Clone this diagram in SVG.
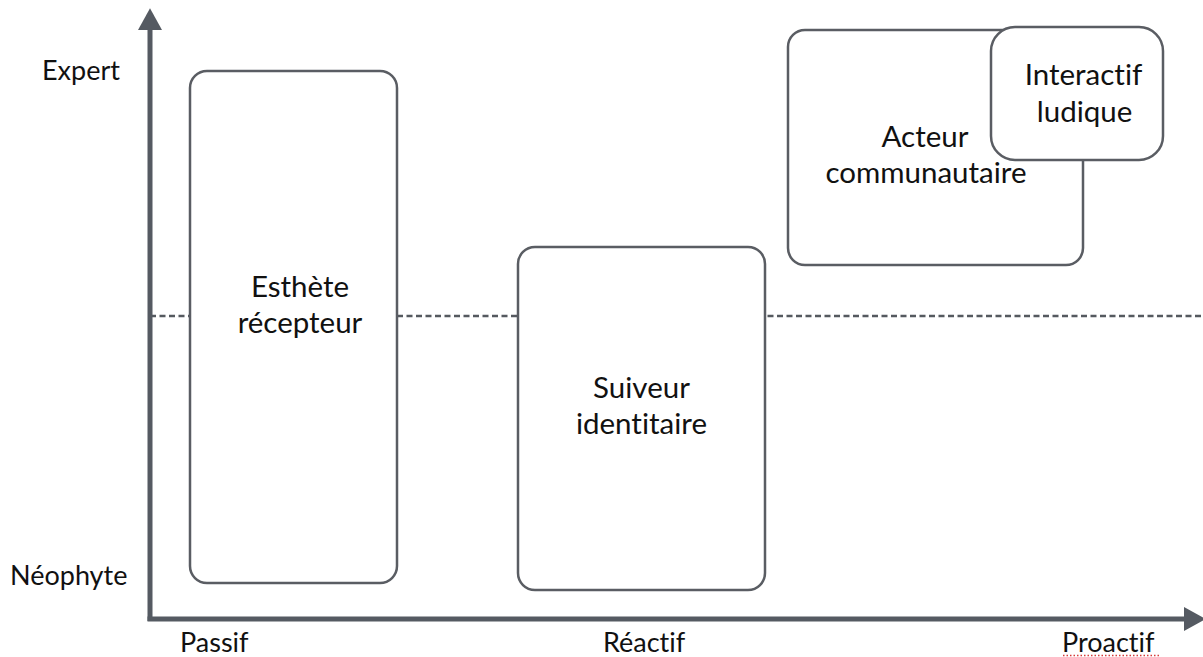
<svg xmlns="http://www.w3.org/2000/svg" width="1203" height="657" viewBox="0 0 1203 657">
<style>
.box{fill:#ffffff;stroke:#5a5d63;stroke-width:2.5}
.lbl{font-family:Lato,"Liberation Sans",sans-serif;font-size:29.5px;fill:#111111;text-anchor:middle;font-variant-ligatures:none}
.ax{font-family:Lato,"Liberation Sans",sans-serif;font-size:27px;fill:#111111;font-variant-ligatures:none}
.axis{stroke:#555a62;stroke-width:5;fill:none}
</style>
<defs>
<marker id="ah" markerUnits="userSpaceOnUse" markerWidth="22" markerHeight="24" refX="0" refY="11" orient="auto" viewBox="0 0 20 22">
<path d="M0,0 L20,11 L0,22 Z" fill="#555a62"/>
</marker>
</defs>
<rect width="1203" height="657" fill="#ffffff"/>
<line x1="150" y1="316" x2="1203" y2="316" stroke="#55595f" stroke-width="2.4" stroke-dasharray="6 3.5"/>
<g id="axes">
<line class="axis" x1="150" y1="621" x2="150" y2="30" marker-end="url(#ah)"/>
<line class="axis" x1="147.5" y1="619" x2="1184" y2="619" marker-end="url(#ah)"/>
</g>
<g id="axis-labels">
<text class="ax" x="42" y="80">Expert</text>
<text class="ax" x="10" y="585">Néophyte</text>
<text class="ax" x="180" y="652">Passif</text>
<text class="ax" x="603" y="652">Réactif</text>
<text class="ax" x="1062" y="652">Proactif</text>
<line x1="1063" y1="655.5" x2="1160" y2="655.5" stroke="#d63a3a" stroke-width="1.5" stroke-dasharray="1.5 2"/>
</g>
<g id="esthete">
<rect class="box" x="190" y="71" width="207" height="512" rx="17"/>
<text class="lbl" x="300" y="297">Esthète</text>
<text class="lbl" x="300" y="333">récepteur</text>
</g>
<g id="suiveur">
<rect class="box" x="518" y="247" width="247" height="343" rx="17"/>
<text class="lbl" x="641.5" y="398">Suiveur</text>
<text class="lbl" x="641.5" y="434">identitaire</text>
</g>
<g id="acteur">
<rect class="box" x="788" y="30" width="295" height="235" rx="17"/>
<text class="lbl" x="925" y="147">Acteur</text>
<text class="lbl" x="926" y="183">communautaire</text>
</g>
<g id="interactif">
<rect class="box" x="991" y="27" width="172" height="133" rx="24"/>
<text class="lbl" x="1083.5" y="85">Interactif</text>
<text class="lbl" x="1084.5" y="122">ludique</text>
</g>
</svg>
